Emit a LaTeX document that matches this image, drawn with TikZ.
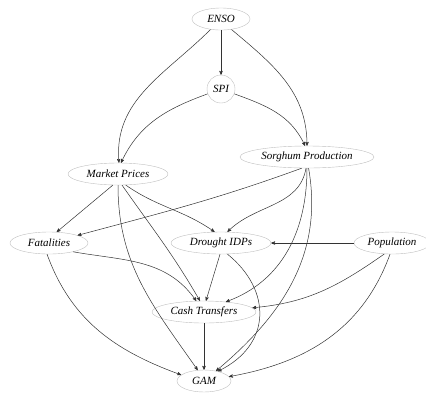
\documentclass[tikz,border=0pt]{standalone}
\usepackage{fontspec}
\setmainfont{Liberation Serif}
\usepackage{tikz}
\usetikzlibrary{arrows}
\usetikzlibrary{shapes.geometric}

\begin{document}
\begin{tikzpicture}[x=1pt,y=-1pt,
		var/.style={ellipse, draw=black!25, inner sep=0pt, minimum height=22pt, font=\fontsize{11}{13}\selectfont\itshape},
		dep/.style={draw=black!80, -stealth', line width=0.5pt}]
		\useasboundingbox (0,0) rectangle (426,392);
		\node[var, minimum width=58pt] (enso) at (221,19) {ENSO};
		\node[circle, draw=black!25, inner sep=0pt, minimum size=28pt, font=\fontsize{11}{13}\selectfont\itshape] (spi) at (221,89) {SPI};
		\node[var, minimum width=134pt] (sorghum) at (307,157) {Sorghum Production};
		\node[var, minimum width=100pt] (market) at (118,174) {Market Prices};
		\node[var, minimum width=78pt] (fatal) at (49,243) {Fatalities};
		\node[var, minimum width=100pt] (idps) at (221,243) {Drought IDPs};
		\node[var, minimum width=76pt] (pop) at (392,243) {Population};
		\node[var, minimum width=104pt] (cash) at (204,312) {Cash Transfers};
		\node[var, minimum width=54pt] (gam) at (204,381) {GAM};
		\begin{scope}[every path/.style={dep}]
			\draw (enso) -- (spi);
			\draw (enso.225) to[out=-135,in=95] (market.85);
			\draw (enso.-45) to[out=-40,in=90] (sorghum.90);
			\draw (spi.200) to[out=-160,in=65] (market.75);
			\draw (spi.-20) to[out=-20,in=115] (sorghum.100);
			\draw (market.-115) -- (fatal.55);
			\draw (market.-90) to[out=-90,in=125] (gam.120);
			\draw (market.-70) to[out=-55,in=120] (cash.110);
			\draw (market.-55) to[out=-35,in=145] (idps.120);
			\draw (sorghum.-115) to[out=-160,in=15] (fatal.15);
			\draw (sorghum.-95) to[out=-100,in=45] (idps.60);
			\draw (sorghum.-90) to[out=-90,in=20] (cash.25);
			\draw (sorghum.-82) to[out=-80,in=40] (gam.40);
			\draw (fatal.-20) to[out=-10,in=125] (cash.125);
			\draw (fatal.-100) to[out=-70,in=160] (gam.165);
			\draw (idps.-95) -- (cash.80);
			\draw (idps.-60) .. controls (272,290) and (272,345) .. (gam.35);
			\draw (pop) -- (idps);
			\draw (pop.-125) to[out=-145,in=5] (cash.5);
			\draw (pop.-100) to[out=-110,in=10] (gam.10);
			\draw (cash) -- (gam);
		\end{scope}
\end{tikzpicture}
\end{document}
